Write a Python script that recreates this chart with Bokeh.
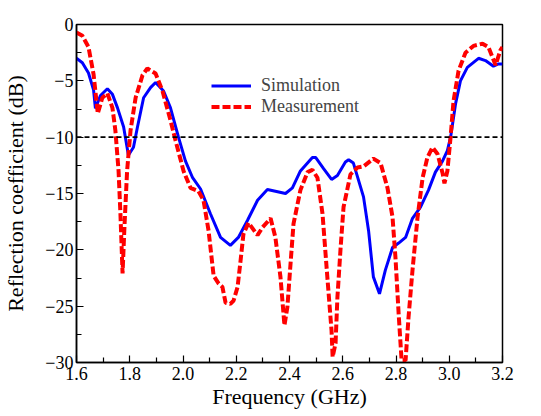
from bokeh.plotting import figure
from bokeh.models import FixedTicker, Legend, LegendItem, Span, Range1d
from bokeh.embed import file_html
from bokeh.resources import INLINE

# Simulation (blue solid)
sim_f = [1.600, 1.622, 1.645, 1.664, 1.671, 1.690, 1.716, 1.735, 1.754, 1.777, 1.795,
         1.814, 1.829, 1.852, 1.878, 1.897, 1.927, 1.953, 1.983, 2.009, 2.036, 2.066,
         2.103, 2.141, 2.178, 2.208, 2.242, 2.280, 2.317, 2.347, 2.385, 2.411, 2.441,
         2.486, 2.498, 2.528, 2.558, 2.580, 2.610, 2.622, 2.640, 2.678, 2.697, 2.715,
         2.738, 2.760, 2.787, 2.810, 2.836, 2.862, 2.892, 2.922, 2.948, 2.975, 2.993,
         3.005, 3.024, 3.042, 3.068, 3.110, 3.136, 3.166, 3.185, 3.200]
sim_db = [-3.0, -3.4, -4.3, -5.8, -7.45, -6.3, -5.7, -6.2, -7.4, -9.1, -11.6,
          -10.9, -9.1, -6.5, -5.6, -5.15, -5.9, -7.4, -10.0, -12.1, -13.6, -14.6,
          -16.8, -18.9, -19.6, -18.9, -17.4, -15.6, -14.65, -14.8, -15.0, -14.5, -13.0,
          -11.8, -11.8, -12.8, -13.75, -13.4, -12.2, -12.0, -12.3, -15.3, -18.3, -22.4,
          -23.9, -21.8, -19.8, -19.4, -18.9, -17.2, -16.2, -14.7, -13.1, -12.1, -11.2,
          -10.0, -7.0, -5.0, -3.8, -3.0, -3.2, -3.7, -3.5, -3.5]

# Measurement (red dashed)
mea_f = [1.600, 1.622, 1.645, 1.664, 1.680, 1.697, 1.716, 1.735, 1.746, 1.758, 1.765,
         1.773, 1.780, 1.790, 1.803, 1.822, 1.848, 1.866, 1.897, 1.923, 1.953, 1.972,
         2.002, 2.028, 2.058, 2.077, 2.096, 2.115, 2.134, 2.148, 2.160, 2.178, 2.190,
         2.205, 2.216, 2.227, 2.246, 2.280, 2.299, 2.329, 2.347, 2.366, 2.381, 2.392,
         2.404, 2.415, 2.441, 2.468, 2.486, 2.505, 2.524, 2.543, 2.558, 2.562, 2.573,
         2.580, 2.592, 2.603, 2.629, 2.655, 2.678, 2.715, 2.742, 2.768, 2.787, 2.798,
         2.810, 2.821, 2.836, 2.847, 2.862, 2.881, 2.900, 2.918, 2.937, 2.956, 2.975,
         2.982, 2.993, 3.005, 3.016, 3.035, 3.061, 3.091, 3.125, 3.147, 3.174, 3.192, 3.200]
mea_db = [-0.7, -1.0, -2.0, -4.4, -7.9, -6.5, -6.1, -7.4, -9.4, -13.0, -16.8,
          -22.1, -18.0, -13.0, -9.4, -6.5, -4.5, -3.9, -4.35, -5.9, -8.5, -10.3,
          -13.0, -14.5, -14.8, -15.6, -18.3, -22.3, -23.0, -23.3, -24.7, -24.8, -24.5,
          -23.3, -21.0, -18.6, -17.6, -18.7, -18.0, -17.2, -18.9, -22.4, -26.7, -25.1,
          -21.2, -17.7, -14.7, -13.1, -12.9, -13.6, -16.8, -22.7, -27.2, -29.5, -28.3,
          -24.2, -19.8, -16.2, -13.3, -12.7, -12.6, -11.9, -12.3, -14.5, -17.1, -20.7,
          -25.7, -29.8, -29.8, -26.0, -21.8, -17.1, -13.6, -11.8, -10.9, -11.5, -13.2,
          -14.1, -13.0, -10.0, -6.8, -4.1, -2.5, -1.9, -1.7, -2.0, -3.6, -2.3, -2.0]

x_ticks = [1.6, 1.8, 2.0, 2.2, 2.4, 2.6, 2.8, 3.0, 3.2]
x_minor = [1.7, 1.9, 2.1, 2.3, 2.5, 2.7, 2.9, 3.1]
y_ticks = [-30, -25, -20, -15, -10, -5, 0]
y_minor = [-27.5, -22.5, -17.5, -12.5, -7.5, -2.5]
threshold = -10

FONT = "Liberation Serif"

p = figure(width=533, height=416, output_backend="svg", toolbar_location=None,
           x_range=Range1d(1.6, 3.2), y_range=Range1d(-30, 0),
           min_border_left=76, min_border_top=24, min_border_right=31, min_border_bottom=54)
p.grid.visible = False
p.outline_line_color = "black"
p.outline_line_width = 1.5
p.background_fill_color = "white"
p.border_fill_color = "white"

for ax in (p.xaxis[0], p.yaxis[0]):
    ax.axis_line_color = "black"
    ax.axis_line_width = 1.5
    ax.major_tick_in = 7
    ax.major_tick_out = 0
    ax.minor_tick_in = 5
    ax.minor_tick_out = 0
    ax.major_tick_line_width = 1.2
    ax.minor_tick_line_width = 1.2
    ax.major_label_text_font = FONT
    ax.major_label_text_font_size = "18px"
    ax.major_label_text_color = "black"
    ax.axis_label_text_font = FONT
    ax.axis_label_text_font_size = "22px"
    ax.axis_label_text_font_style = "normal"
    ax.axis_label_text_color = "black"

p.xaxis.ticker = FixedTicker(ticks=x_ticks, minor_ticks=x_minor)
p.yaxis.ticker = FixedTicker(ticks=y_ticks, minor_ticks=y_minor)
p.xaxis.major_label_overrides = {t: f"{t:.1f}" for t in x_ticks}
p.xaxis.major_label_standoff = 4
p.yaxis.major_label_standoff = 3
p.xaxis.axis_label = "Frequency (GHz)"
p.yaxis.axis_label = "Reflection coefficient (dB)"
p.xaxis.axis_label_standoff = 1
p.yaxis.axis_label_standoff = 14

p.add_layout(Span(location=threshold, dimension="width", line_color="black",
                  line_width=1.6, line_dash="5 3"))

r_sim = p.line(sim_f, sim_db, line_color="#0000ff", line_width=3)
r_mea = p.line(mea_f, mea_db, line_color="#ff0000", line_width=4, line_dash="8 3")

legend = Legend(items=[LegendItem(label="Simulation", renderers=[r_sim]),
                       LegendItem(label="Measurement", renderers=[r_mea])],
                location=(135, 245), padding=0, margin=0, spacing=0,
                glyph_width=40, glyph_height=21, label_height=21,
                label_standoff=10, label_text_font=FONT, label_text_font_size="18px",
                border_line_color=None, background_fill_alpha=0)
p.add_layout(legend)

open("out.html", "w").write(file_html(p, INLINE))
